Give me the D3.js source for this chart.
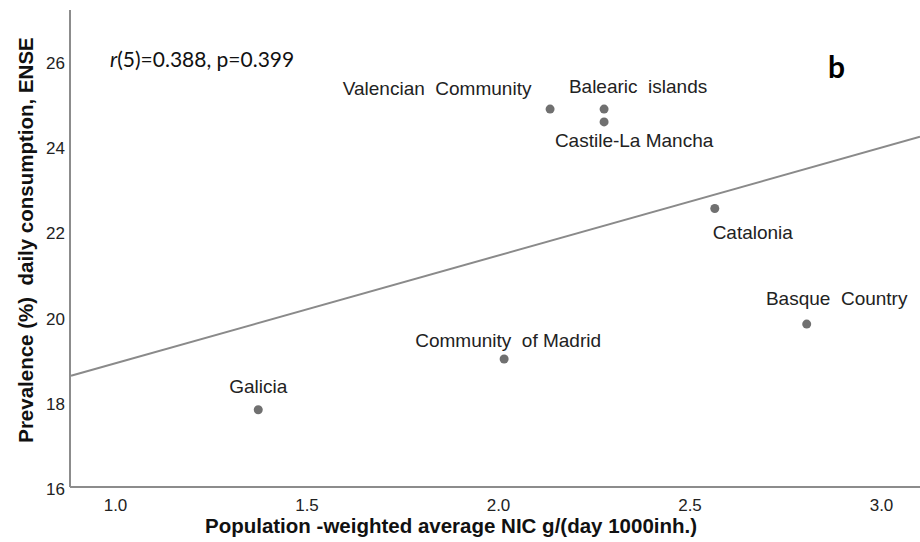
<!DOCTYPE html>
<html>
<head>
<meta charset="utf-8">
<script src="https://cdn.jsdelivr.net/npm/d3@7/dist/d3.min.js"></script>
<style>
  html, body { margin: 0; padding: 0; background: #fff; }
  svg { display: block; }
</style>
</head>
<body>
<svg id="chart" width="920" height="542"></svg>
<script>
// ---- data ----
const regions = ["Galicia", "Community  of Madrid", "Valencian  Community", "Balearic  islands", "Castile-La Mancha", "Catalonia", "Basque  Country"];
const nicValues = [1.374, 2.016, 2.136, 2.277, 2.277, 2.566, 2.806];
const prevalenceValues = [17.81, 19.00, 24.86, 24.86, 24.56, 22.53, 19.82];
const xTicks = [1.0, 1.5, 2.0, 2.5, 3.0];
const yTicks = [16, 18, 20, 22, 24, 26];
const fitLine = { intercept: 16.37, slope: 2.528 };
const statText = ["r", "(5)=0.388, p=0.399"];
const panelLetter = "b";
const xTitle = "Population -weighted average NIC g/(day 1000inh.)";
const yTitle = "Prevalence (%)  daily consumption, ENSE";

// ---- label placement (styling) ----
const labelOffsets = {
  "Galicia": [0, -17],
  "Community  of Madrid": [4, -12],
  "Valencian  Community": [-113, -14],
  "Balearic  islands": [34, -16],
  "Castile-La Mancha": [30, 25],
  "Catalonia": [38, 31],
  "Basque  Country": [30, -19]
};

const svg = d3.select("#chart");
const axisX0 = 70, axisX1 = 920, axisY0 = 487, axisYTop = 10;

const x = d3.scaleLinear().domain([1, 3]).range([115, 881]);
const y = d3.scaleLinear().domain([16, 26]).range([487, 60.5]);

const axisColor = "#8c8c8c";
const textColor = "#222";

// axes
const xAxis = d3.axisBottom(x).tickValues(xTicks).tickFormat(d3.format(".1f")).tickSize(0).tickPadding(12);
const gx = svg.append("g").attr("transform", `translate(0,${axisY0})`).call(xAxis);
gx.select(".domain").remove();
gx.selectAll("text").attr("font-family", "Liberation Sans, Arial, sans-serif").attr("font-size", 17).attr("fill", textColor);

const yAxis = d3.axisLeft(y).tickValues(yTicks).tickFormat(d3.format("d")).tickSize(0).tickPadding(5);
const gy = svg.append("g").attr("transform", `translate(${axisX0},0)`).call(yAxis);
gy.select(".domain").remove();
gy.selectAll("text").attr("font-family", "Liberation Sans, Arial, sans-serif").attr("font-size", 17).attr("fill", textColor).attr("dy", "0.45em");

svg.append("line").attr("x1", axisX0).attr("x2", axisX1).attr("y1", axisY0).attr("y2", axisY0)
  .attr("stroke", axisColor).attr("stroke-width", 2);
svg.append("line").attr("x1", axisX0).attr("x2", axisX0).attr("y1", axisYTop).attr("y2", axisY0)
  .attr("stroke", axisColor).attr("stroke-width", 2);

// fit line
const xl0 = x.invert(axisX0 + 1), xl1 = x.invert(axisX1);
svg.append("line")
  .attr("x1", x(xl0)).attr("y1", y(fitLine.intercept + fitLine.slope * xl0))
  .attr("x2", x(xl1)).attr("y2", y(fitLine.intercept + fitLine.slope * xl1))
  .attr("stroke", "#8a8a8a").attr("stroke-width", 2);

// points
const pts = regions.map((r, i) => ({ name: r, x: nicValues[i], y: prevalenceValues[i] }));
svg.append("g").selectAll("circle").data(pts).join("circle")
  .attr("cx", d => x(d.x)).attr("cy", d => y(d.y)).attr("r", 4.5)
  .attr("fill", "#707070");

svg.append("g").selectAll("text").data(pts).join("text")
  .attr("x", d => x(d.x) + labelOffsets[d.name][0])
  .attr("y", d => y(d.y) + labelOffsets[d.name][1])
  .attr("text-anchor", "middle")
  .attr("font-family", "Liberation Sans, Arial, sans-serif")
  .attr("font-size", 19)
  .attr("fill", textColor)
  .style("white-space", "pre")
  .text(d => d.name);

// stat annotation
const st = svg.append("text").attr("x", 110).attr("y", 67)
  .attr("font-family", "Lato, 'Open Sans', sans-serif").attr("font-size", 21).attr("fill", "#111");
st.append("tspan").attr("font-style", "italic").text(statText[0]);
st.append("tspan").text(statText[1]);

// panel letter
svg.append("text").attr("x", 828).attr("y", 78)
  .attr("font-family", "Lato, 'Open Sans', sans-serif").attr("font-weight", "bold")
  .attr("font-size", 30).attr("fill", "#000").text(panelLetter);

// axis titles
svg.append("text").attr("x", 451).attr("y", 533).attr("text-anchor", "middle")
  .attr("font-family", "Liberation Sans, Arial, sans-serif").attr("font-weight", "bold")
  .attr("font-size", 20.5).attr("fill", "#111").style("white-space", "pre").text(xTitle);

svg.append("text").attr("transform", "translate(33,240) rotate(-90)").attr("text-anchor", "middle")
  .attr("font-family", "Liberation Sans, Arial, sans-serif").attr("font-weight", "bold")
  .attr("font-size", 20.5).attr("fill", "#111").style("white-space", "pre").text(yTitle);
</script>
</body>
</html>
